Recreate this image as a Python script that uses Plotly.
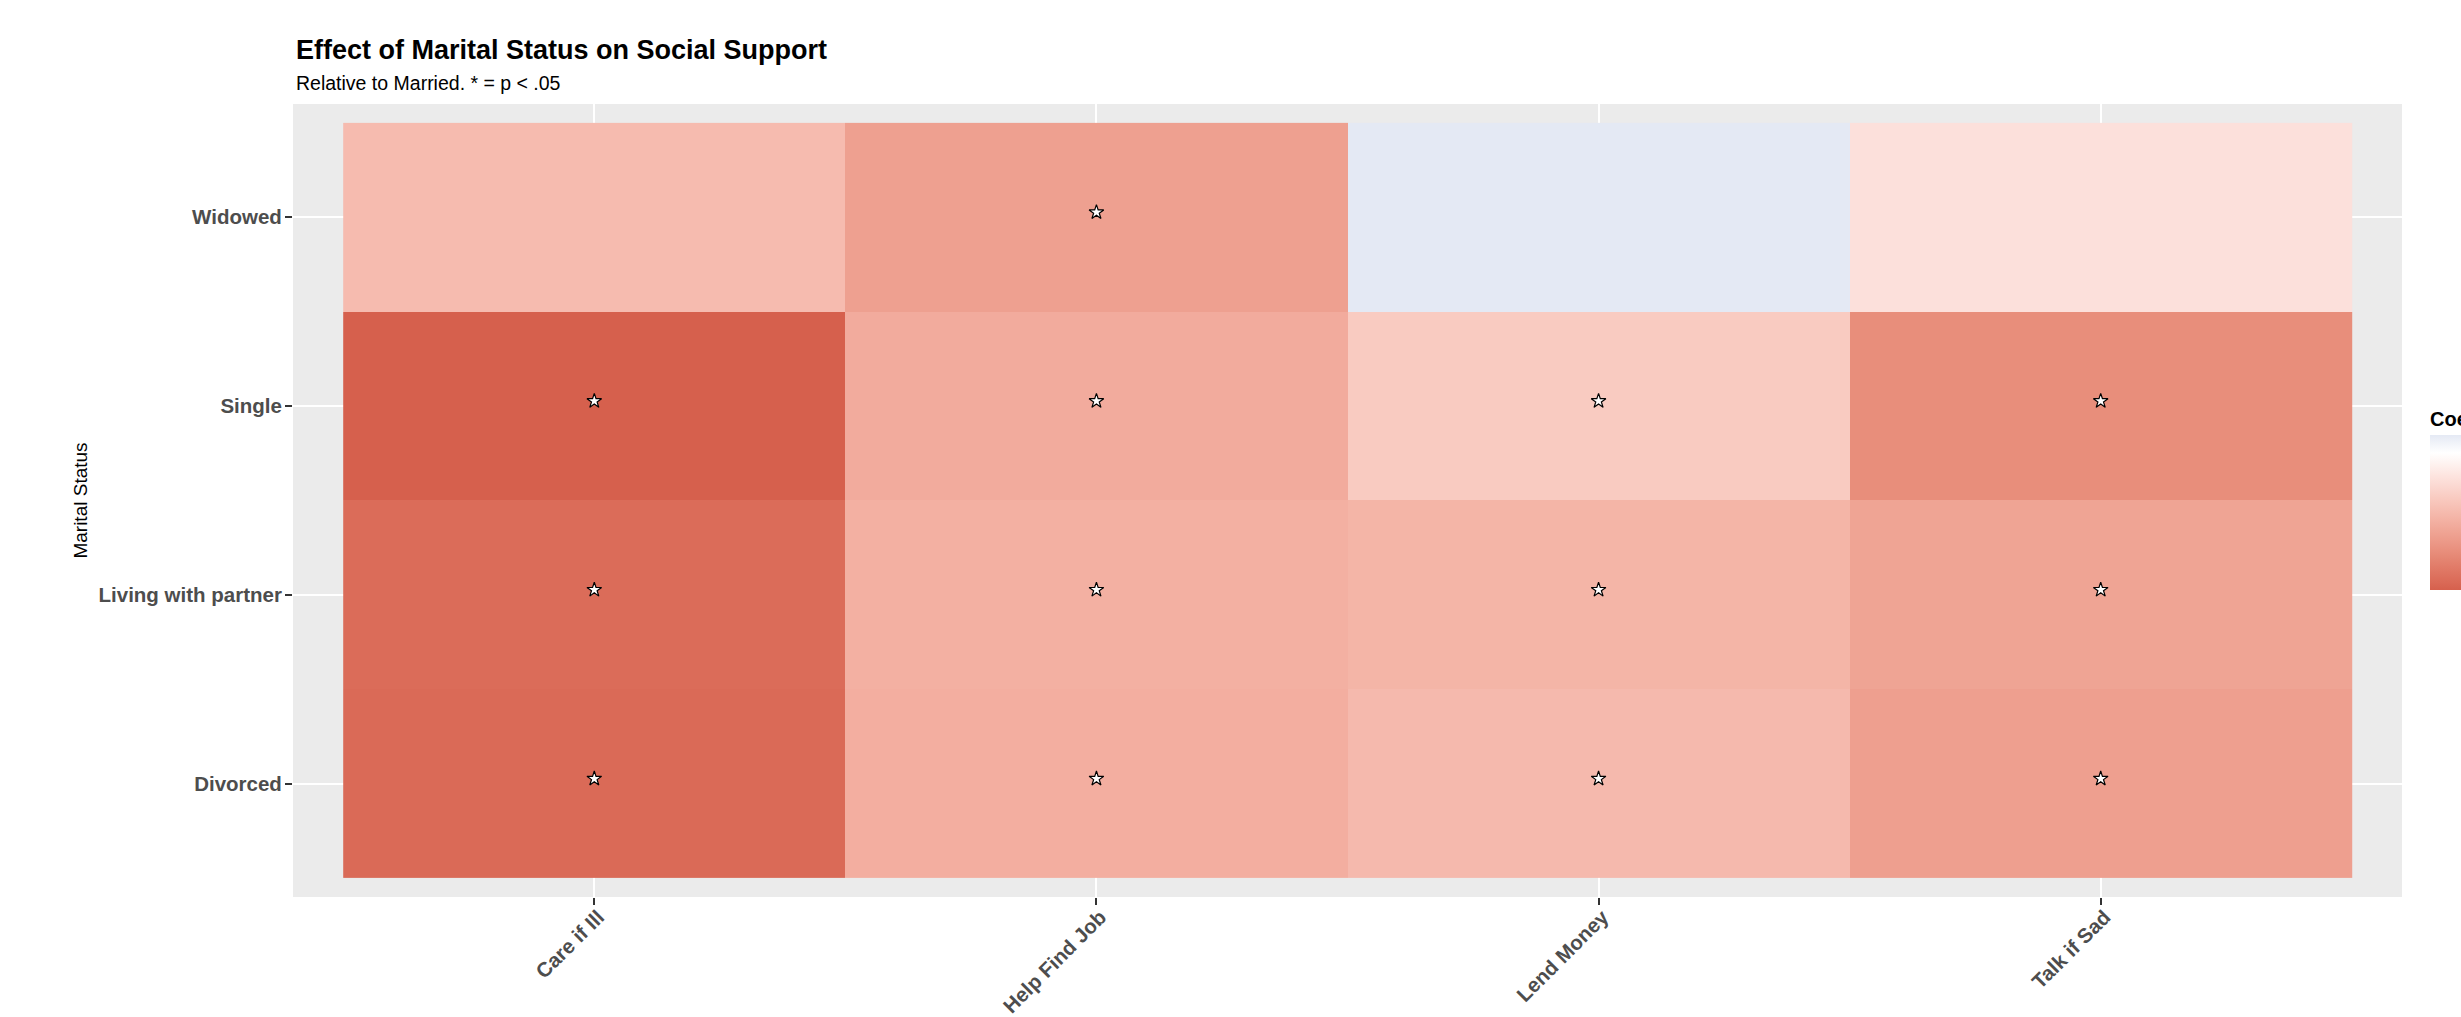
import plotly.graph_objects as go

# ---------------- data ----------------
outcomes = ["Care if Ill", "Help Find Job", "Lend Money", "Talk if Sad"]
statuses = ["Divorced", "Living with partner", "Single", "Widowed"]

coef_divorced = [-0.94, -0.51, -0.44, -0.61]
coef_living = [-0.93, -0.50, -0.47, -0.58]
coef_single = [-1.00, -0.53, -0.33, -0.72]
coef_widowed = [-0.43, -0.60, 0.13, -0.19]

sig_divorced = [True, True, True, True]
sig_living = [True, True, True, True]
sig_single = [True, True, True, True]
sig_widowed = [False, True, False, False]

legend_ticks = [-0.75, -0.5, -0.25, 0]

title_text = "Effect of Marital Status on Social Support"
subtitle_text = "Relative to Married. * = p < .05"
y_title = "Marital Status"
legend_title = "Coefficient"

# ---------------- colour scale (Lab interpolation like ggplot) ----------------
LOW = (214, 96, 77)
MID = (255, 255, 255)
HIGH_TOP = (228, 233, 244)


def srgb_to_lin(c):
    c = c / 255.0
    return c / 12.92 if c <= 0.04045 else ((c + 0.055) / 1.055) ** 2.4


def lin_to_srgb(c):
    c = max(0.0, min(1.0, c))
    v = 12.92 * c if c <= 0.0031308 else 1.055 * c ** (1 / 2.4) - 0.055
    return int(round(v * 255))


def rgb_to_lab(rgb):
    r, g, b = (srgb_to_lin(v) for v in rgb)
    X = (0.4124 * r + 0.3576 * g + 0.1805 * b) / 0.95047
    Y = (0.2126 * r + 0.7152 * g + 0.0722 * b) / 1.0
    Z = (0.0193 * r + 0.1192 * g + 0.9505 * b) / 1.08883

    def f(t):
        return t ** (1 / 3) if t > 0.008856 else 7.787 * t + 16 / 116

    fx, fy, fz = f(X), f(Y), f(Z)
    return (116 * fy - 16, 500 * (fx - fy), 200 * (fy - fz))


def lab_to_rgb(lab):
    L, a, b = lab
    fy = (L + 16) / 116
    fx = fy + a / 500
    fz = fy - b / 200

    def finv(t):
        return t ** 3 if t ** 3 > 0.008856 else (t - 16 / 116) / 7.787

    X = finv(fx) * 0.95047
    Y = finv(fy)
    Z = finv(fz) * 1.08883
    r = 3.2406 * X - 1.5372 * Y - 0.4986 * Z
    g = -0.9689 * X + 1.8758 * Y + 0.0415 * Z
    bb = 0.0557 * X - 0.2040 * Y + 1.0570 * Z
    return (lin_to_srgb(r), lin_to_srgb(g), lin_to_srgb(bb))


all_vals = coef_divorced + coef_living + coef_single + coef_widowed
zmin = min(all_vals)
zmax = max(all_vals)
mid_pos = (0 - zmin) / (zmax - zmin)

lab_low = rgb_to_lab(LOW)
lab_mid = rgb_to_lab(MID)
colorscale = []
n = 12
for i in range(n + 1):
    t = i / n  # 0 = low colour, 1 = white
    lab = tuple(lab_low[k] + (lab_mid[k] - lab_low[k]) * t for k in range(3))
    rgb = lab_to_rgb(lab)
    colorscale.append([mid_pos * t, "rgb(%d,%d,%d)" % rgb])
colorscale.append([1.0, "rgb(%d,%d,%d)" % HIGH_TOP])

z = [coef_divorced, coef_living, coef_single, coef_widowed]
sig = [sig_divorced, sig_living, sig_single, sig_widowed]

star_x, star_y = [], []
for ri, status in enumerate(statuses):
    for ci, outcome in enumerate(outcomes):
        if sig[ri][ci]:
            star_x.append(outcome)
            star_y.append(status)

# ---------------- figure ----------------
W, H = 2461, 1017
ML, MR, MT, MB = 293, 59, 104, 120
plot_w = W - ML - MR
plot_h = H - MT - MB

Y_RANGE = [-0.6, 3.6]
# star glyphs sit a few pixels above the cell centre (text baseline effect)
star_shift_px = 5
star_shift = star_shift_px * (Y_RANGE[1] - Y_RANGE[0]) / plot_h

FONT = "Liberation Sans, Arial, Helvetica, sans-serif"

fig = go.Figure()
fig.add_trace(
    go.Heatmap(
        x=outcomes,
        y=statuses,
        z=z,
        zmin=zmin,
        zmax=zmax,
        colorscale=colorscale,
        colorbar=dict(
            title=dict(text=legend_title, side="top",
                       font=dict(family=FONT, size=20, color="black", weight="bold")),
            x=(2430 - ML) / plot_w,
            xanchor="left",
            xpad=0,
            y=(plot_h - (590 - MT)) / plot_h,
            yanchor="bottom",
            ypad=0,
            len=182,
            lenmode="pixels",
            thickness=40,
            outlinewidth=0,
            tickvals=legend_ticks,
            ticks="inside",
            tickcolor="white",
            ticklen=8,
            tickfont=dict(family=FONT, size=18, color="#4D4D4D"),
        ),
        hoverinfo="x+y+z",
    )
)

fig.add_trace(
    go.Scatter(
        x=star_x,
        y=star_y,
        yaxis="y2",
        mode="markers",
        marker=dict(symbol="star", size=11, color="white",
                    line=dict(color="black", width=1.2)),
        showlegend=False,
        hoverinfo="skip",
    )
)

fig.update_layout(
    width=W,
    height=H,
    margin=dict(l=ML, r=MR, t=MT, b=MB, autoexpand=False),
    paper_bgcolor="white",
    plot_bgcolor="#EBEBEB",
    font=dict(family=FONT, color="black"),
    showlegend=False,
    xaxis=dict(
        type="category",
        categoryorder="array",
        categoryarray=outcomes,
        range=[-0.6, 3.6],
        showgrid=True,
        gridcolor="white",
        gridwidth=2,
        zeroline=False,
        showline=False,
        ticks="outside",
        ticklen=7,
        tickwidth=1.5,
        tickcolor="#333333",
        tickangle=-45,
        ticklabelstandoff=-8,
        ticklabelshift=4,
        tickfont=dict(family=FONT, size=20.5, color="#4D4D4D", weight="bold"),
        automargin=False,
    ),
    yaxis=dict(
        type="category",
        categoryorder="array",
        categoryarray=statuses,
        range=Y_RANGE,
        showgrid=True,
        gridcolor="white",
        gridwidth=2,
        zeroline=False,
        showline=False,
        ticks="outside",
        ticklen=7,
        tickwidth=1.5,
        tickcolor="#333333",
        ticklabelstandoff=-1,
        tickfont=dict(family=FONT, size=20.5, color="#4D4D4D", weight="bold"),
        title=dict(text=y_title, font=dict(family=FONT, size=19, color="black"),
                   standoff=5),
        automargin=False,
    ),
    yaxis2=dict(
        type="category",
        categoryorder="array",
        categoryarray=statuses,
        range=[Y_RANGE[0] - star_shift, Y_RANGE[1] - star_shift],
        overlaying="y",
        visible=False,
        showgrid=False,
    ),
    annotations=[
        dict(
            text=title_text,
            xref="paper", yref="paper",
            x=(294 - ML) / plot_w, y=(plot_h - (50 - MT)) / plot_h,
            xanchor="left", yanchor="middle",
            showarrow=False,
            font=dict(family=FONT, size=27, color="black", weight="bold"),
        ),
        dict(
            text=subtitle_text,
            xref="paper", yref="paper",
            x=(294 - ML) / plot_w, y=(plot_h - (83 - MT)) / plot_h,
            xanchor="left", yanchor="middle",
            showarrow=False,
            font=dict(family=FONT, size=19.5, color="black"),
        ),
    ],
)

fig.write_html(
    "out.html",
    config={"displayModeBar": False},
    post_script="document.body.style.margin='0';document.body.style.overflow='hidden';",
)
